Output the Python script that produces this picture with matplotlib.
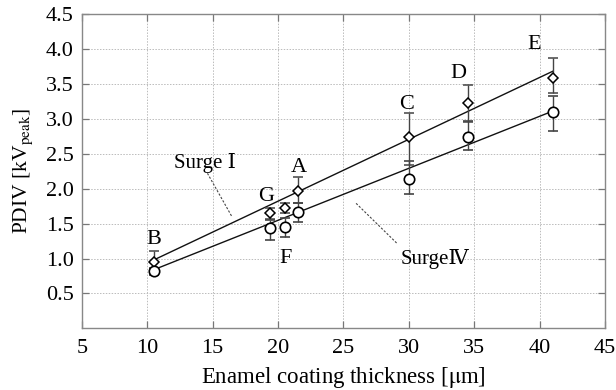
import matplotlib
matplotlib.use("Agg")
import matplotlib.pyplot as plt
import numpy as np

plt.rcParams["font.family"] = ["Liberation Serif", "DejaVu Serif"]
plt.rcParams["mathtext.fontset"] = "stix"

# samples A..G: enamel thickness [um] and PDIV [kV_peak]
names = ["B", "G", "F", "A", "C", "D", "E"]
thick = [10.5, 19.4, 20.5, 21.5, 30.0, 34.5, 41.0]
surge1 = [0.95, 1.65, 1.72, 1.97, 2.74, 3.22, 3.59]
surge1_lo = [0.10, 0.08, 0.07, 0.17, 0.40, 0.26, 0.22]
surge1_hi = [0.16, 0.08, 0.07, 0.19, 0.34, 0.27, 0.28]
surge4 = [0.82, 1.43, 1.45, 1.67, 2.14, 2.74, 3.10]
surge4_lo = [0.05, 0.16, 0.14, 0.15, 0.22, 0.19, 0.28]
surge4_hi = [0.05, 0.12, 0.13, 0.12, 0.26, 0.23, 0.22]

# fitted lines (endpoints)
fit_x = [10.5, 41.0]
fit1 = [0.98, 3.68]
fit4 = [0.84, 3.11]

# letter label positions
lab_x = [10.47, 19.07, 20.6, 21.56, 29.8, 33.8, 39.6]
lab_y = [1.27, 1.885, 1.0, 2.31, 3.2, 3.65, 4.06]

fig = plt.figure(figsize=(6.16, 3.90), dpi=100)
ax = fig.add_axes([0.133, 0.158, 0.849, 0.806])

ax.plot(fit_x, fit1, color="#111", lw=1.0, zorder=2)
ax.plot(fit_x, fit4, color="#111", lw=1.0, zorder=2)

ax.errorbar(thick, surge1, yerr=[surge1_lo, surge1_hi], fmt="D", ms=5.5,
            mfc="white", mec="black", mew=1.1, ecolor="#444", elinewidth=1.0,
            capsize=3.5, capthick=0.9, zorder=3)
ax.errorbar(thick, surge4, yerr=[surge4_lo, surge4_hi], fmt="o", ms=7.5,
            mfc="white", mec="black", mew=1.2, ecolor="#444", elinewidth=1.0,
            capsize=3.5, capthick=0.9, zorder=3)

for n, x, y in zip(names, lab_x, lab_y):
    ax.text(x, y, n, fontsize=16, ha="center", va="center")

ax.text(14.4, 2.37, "Surge Ⅰ", fontsize=15, ha="center", va="center")
ax.plot([14.6, 16.44], [2.22, 1.61], color="#444", lw=0.8, ls=(0, (2, 1.5)))
ax.text(32.0, 1.0, "SurgeⅣ", fontsize=15, ha="center", va="center")
ax.plot([25.97, 29.08], [1.79, 1.22], color="#444", lw=0.8, ls=(0, (2, 1.5)))

ax.set_xlim(5, 45)
ax.set_ylim(0, 4.5)
ax.set_xticks(np.arange(5, 46, 5))
ax.set_yticks(np.arange(0.5, 4.51, 0.5))
ax.set_yticklabels([f"{v:.1f}" for v in np.arange(0.5, 4.51, 0.5)])
ax.grid(True, color="#bbb", ls=(0, (1.5, 1.5)), lw=0.7)
ax.tick_params(direction="in", top=True, right=True, length=5, width=0.9,
               color="#777", labelsize=16)
ax.tick_params(axis="x", pad=8)
ax.tick_params(axis="y", pad=6)
for s in ax.spines.values():
    s.set_color("#888")
    s.set_linewidth(1.0)

ax.set_xlabel(r"Enamel coating thickness [$\mathrm{\mu}$m]", fontsize=16.5, labelpad=5)
ax.set_ylabel(r"PDIV [kV$_{\mathrm{peak}}$]", fontsize=15.5, labelpad=8)

fig.savefig("out.png", dpi=100)
